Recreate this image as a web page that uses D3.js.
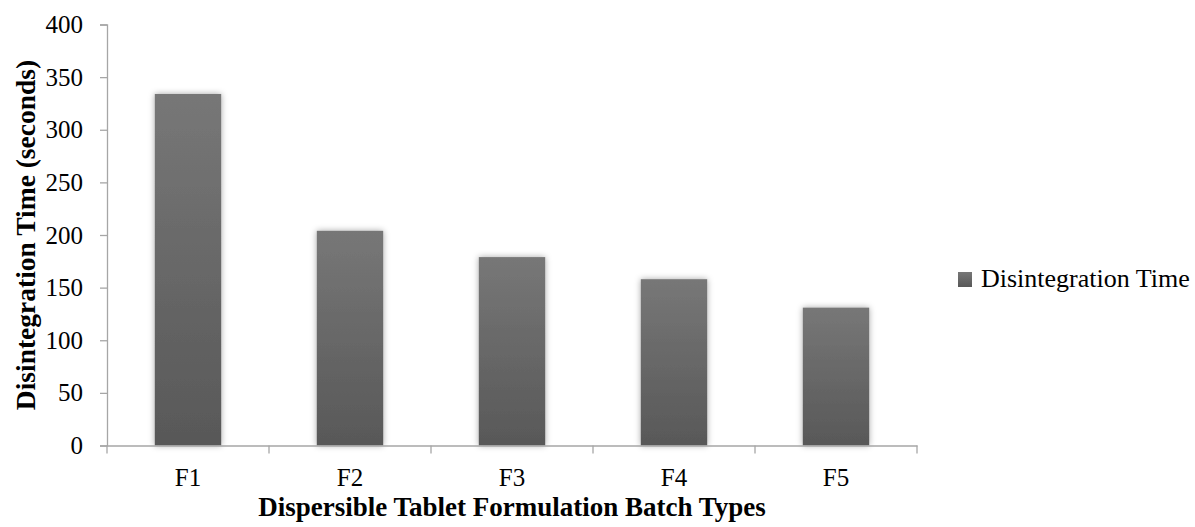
<!DOCTYPE html>
<html>
<head>
<meta charset="utf-8">
<script src="https://cdn.jsdelivr.net/npm/d3@7"></script>
<style>
  body { margin: 0; background: #fff; }
  svg { display: block; font-family: "Liberation Serif", "Times New Roman", serif; }
</style>
</head>
<body>
<div id="chart"></div>
<script>
const categories = ['F1', 'F2', 'F3', 'F4', 'F5']
const times = [334, 204, 179, 158, 131]
const yTicks = [0, 50, 100, 150, 200, 250, 300, 350, 400]
const seriesName = 'Disintegration Time'
const xTitle = 'Dispersible Tablet Formulation Batch Types'
const yTitle = 'Disintegration Time (seconds)'

const width = 1195, height = 527
const margin = {top: 24.5, left: 107, right: 278, bottom: 81.5}
const axisColor = '#a6a6a6'

const svg = d3.select('#chart').append('svg')
  .attr('width', width)
  .attr('height', height)
  .attr('viewBox', '0,0,' + width + ',' + height)

const defs = svg.append('defs')
const grad = defs.append('linearGradient')
  .attr('id', 'barGrad')
  .attr('x1', 0).attr('y1', 0).attr('x2', 0).attr('y2', 1)
grad.append('stop').attr('offset', '0%').attr('stop-color', '#777777')
grad.append('stop').attr('offset', '100%').attr('stop-color', '#585858')

const shadow = defs.append('filter')
  .attr('id', 'shadow')
  .attr('x', '-30%').attr('y', '-10%').attr('width', '160%').attr('height', '120%')
shadow.append('feDropShadow')
  .attr('dx', 0).attr('dy', 0)
  .attr('stdDeviation', 3)
  .attr('flood-color', '#000')
  .attr('flood-opacity', 0.35)

const x = d3.scaleBand()
  .domain(categories)
  .range([margin.left, width - margin.right])
  .paddingInner(0.59)
  .paddingOuter(0.295)

const y = d3.scaleLinear()
  .domain([0, 400])
  .range([height - margin.bottom, margin.top])

// bars
svg.append('g')
  .selectAll('rect').data(categories).enter().append('rect')
    .attr('x', d => x(d))
    .attr('y', (d, i) => y(times[i]))
    .attr('width', x.bandwidth())
    .attr('height', (d, i) => y(0) - y(times[i]))
    .attr('fill', 'url(#barGrad)')
    .attr('filter', 'url(#shadow)')

// y axis
const yAxis = svg.append('g')
  .attr('transform', `translate(${margin.left},0)`)
  .call(d3.axisLeft(y).tickValues(yTicks).tickSize(7).tickPadding(17))
yAxis.selectAll('line, path').attr('stroke', axisColor).attr('stroke-width', 1.3)
yAxis.selectAll('text').attr('font-size', 25).attr('fill', '#000')
  .attr('font-family', '"Liberation Serif", serif')

// x axis, labels centred under bars, ticks between categories
const xAxis = svg.append('g')
  .attr('transform', `translate(0,${y(0)})`)
  .call(d3.axisBottom(x).tickSize(0).tickPadding(23))
xAxis.select('.domain').attr('stroke', axisColor).attr('stroke-width', 1.3)
xAxis.selectAll('text').attr('font-size', 25).attr('fill', '#000')
  .attr('font-family', '"Liberation Serif", serif')

const edges = categories.map(c => x(c) - x.step() * x.paddingInner() / 2)
edges.push(width - margin.right)
xAxis.selectAll('line.edge').data(edges).enter().append('line')
  .attr('class', 'edge')
  .attr('x1', d => d).attr('x2', d => d)
  .attr('y1', 0).attr('y2', 8)
  .attr('stroke', axisColor).attr('stroke-width', 1.3)

// axis titles
svg.append('text')
  .attr('x', (margin.left + width - margin.right) / 2)
  .attr('y', 516)
  .attr('text-anchor', 'middle')
  .attr('font-weight', 'bold')
  .attr('font-size', 27)
  .text(xTitle)

svg.append('text')
  .attr('transform', 'translate(35,235) rotate(-90)')
  .attr('text-anchor', 'middle')
  .attr('font-weight', 'bold')
  .attr('font-size', 27.5)
  .text(yTitle)

// legend
const legend = svg.append('g').attr('transform', 'translate(958,272)')
legend.append('rect')
  .attr('width', 14).attr('height', 15)
  .attr('fill', 'url(#barGrad)')
legend.append('text')
  .attr('x', 23).attr('y', 15)
  .attr('font-size', 26)
  .text(seriesName)
</script>
</body>
</html>
